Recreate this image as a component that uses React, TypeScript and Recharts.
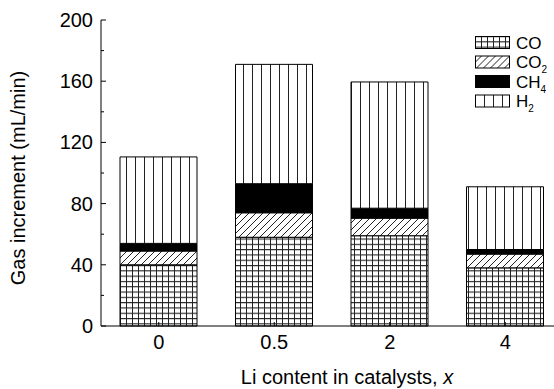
import { BarChart, Bar, XAxis, YAxis } from "recharts";

const catalysts = ["0", "0.5", "2", "4"];
const coValues = [40, 58, 59, 38];
const co2Values = [9, 16, 11.5, 9];
const ch4Values = [5, 19, 6.5, 3];
const h2Values = [56.5, 78, 82.5, 41];
const yTicks = [0, 20, 40, 60, 80, 100, 120, 140, 160, 180, 200];

const data = catalysts.map((x, i) => ({
  x,
  CO: coValues[i],
  CO2: co2Values[i],
  CH4: ch4Values[i],
  H2: h2Values[i],
}));

const series = [
  { key: "CO", fill: "url(#pat-co)", name: "CO", sub: "" },
  { key: "CO2", fill: "url(#pat-co2)", name: "CO", sub: "2" },
  { key: "CH4", fill: "#000", name: "CH", sub: "4" },
  { key: "H2", fill: "url(#pat-h2)", name: "H", sub: "2" },
];

const FONT = "'Liberation Sans', Arial, sans-serif";

function YTick(props: any) {
  const { x, y, payload } = props;
  const axisX = x + 8;
  const major = payload.value % 40 === 0;
  return (
    <g>
      <line x1={axisX} x2={axisX + (major ? 5 : 3)} y1={y} y2={y} stroke="#000" />
      {major && (
        <text x={x} y={y} dy={7} textAnchor="end" fontSize={20} fontFamily={FONT} fill="#000">
          {payload.value}
        </text>
      )}
    </g>
  );
}

function XTick(props: any) {
  const { x, y, payload } = props;
  const axisY = y - 10;
  return (
    <g>
      <line x1={x} x2={x} y1={axisY} y2={axisY - 4} stroke="#000" />
      <text x={x} y={y} dy={13} textAnchor="middle" fontSize={20} fontFamily={FONT} fill="#000">
        {payload.value}
      </text>
    </g>
  );
}

function XLabel(props: any) {
  const { viewBox } = props;
  return (
    <text x={347} y={viewBox.y + 58} textAnchor="middle" fontSize={20} fontFamily={FONT} fill="#000">
      Li content in catalysts, <tspan fontStyle="italic">x</tspan>
    </text>
  );
}

function YLabel(props: any) {
  const { viewBox } = props;
  const cx = 25;
  const cy = viewBox.y + viewBox.height / 2 + 5;
  return (
    <text
      x={cx}
      y={cy}
      transform={`rotate(-90, ${cx}, ${cy})`}
      textAnchor="middle"
      fontSize={20}
      fontFamily={FONT}
      fill="#000"
    >
      Gas increment (mL/min)
    </text>
  );
}

// legend drawn by hand, top right inside the frame
function LegendBox() {
  return (
    <svg width={84} height={80} style={{ position: "absolute", left: 470, top: 36 }}>
      {series.map((s, i) => (
        <g key={s.key} transform={`translate(5, ${i * 19.5})`}>
          <rect x={0.5} y={0.5} width={34} height={12} fill={s.fill} stroke="#000" />
          <text x={41} y={12.5} fontSize={17} fontFamily={FONT} fill="#000">
            {s.name}
            {s.sub && (
              <tspan fontSize={10} dy={5}>
                {s.sub}
              </tspan>
            )}
          </text>
        </g>
      ))}
    </svg>
  );
}

export default function App() {
  return (
    <div style={{ position: "fixed", left: 0, top: 0, width: 554, height: 389, overflow: "hidden", background: "#fff" }}>
      <svg width={0} height={0} style={{ position: "absolute" }}>
        <defs>
          <pattern id="pat-co" patternUnits="userSpaceOnUse" width={6} height={5.3}>
            <rect width={6} height={5.3} fill="#fff" />
            <path d="M0 0.5 H6 M0.5 0 V5.3" stroke="#222" strokeWidth={1} />
          </pattern>
          <pattern id="pat-co2" patternUnits="userSpaceOnUse" width={7} height={7}>
            <rect width={7} height={7} fill="#fff" />
            <path d="M-1 8 L8 -1 M-1 1 L1 -1 M6 8 L8 6" stroke="#222" strokeWidth={1} />
          </pattern>
          <pattern id="pat-h2" patternUnits="userSpaceOnUse" width={9} height={10}>
            <rect width={9} height={10} fill="#fff" />
            <path d="M0.5 0 V10" stroke="#222" strokeWidth={1} />
          </pattern>
        </defs>
      </svg>
      <BarChart
        width={600}
        height={389}
        data={data}
        margin={{ top: 20, right: 37, left: 41, bottom: 33 }}
        barSize={77}
      >
        <XAxis
          dataKey="x"
          axisLine={{ stroke: "#000" }}
          tickLine={false}
          tickSize={0}
          tickMargin={10}
          height={30}
          tick={<XTick />}
          interval={0}
          label={<XLabel />}
        />
        <XAxis xAxisId="top" dataKey="x" orientation="top" height={0} tick={false} tickLine={false} axisLine={{ stroke: "#000" }} />
        <YAxis
          domain={[0, 200]}
          ticks={yTicks}
          interval={0}
          width={60}
          axisLine={{ stroke: "#000" }}
          tickLine={false}
          tickSize={0}
          tickMargin={8}
          tick={<YTick />}
          label={<YLabel />}
        />
        <YAxis yAxisId="right" orientation="right" width={0} tick={false} tickLine={false} axisLine={{ stroke: "#000" }} />
        {series.map((s) => (
          <Bar
            key={s.key}
            dataKey={s.key}
            stackId="gas"
            fill={s.fill}
            stroke="#000"
            strokeWidth={1}
            isAnimationActive={false}
            legendType="none"
          />
        ))}
      </BarChart>
      <LegendBox />
    </div>
  );
}
